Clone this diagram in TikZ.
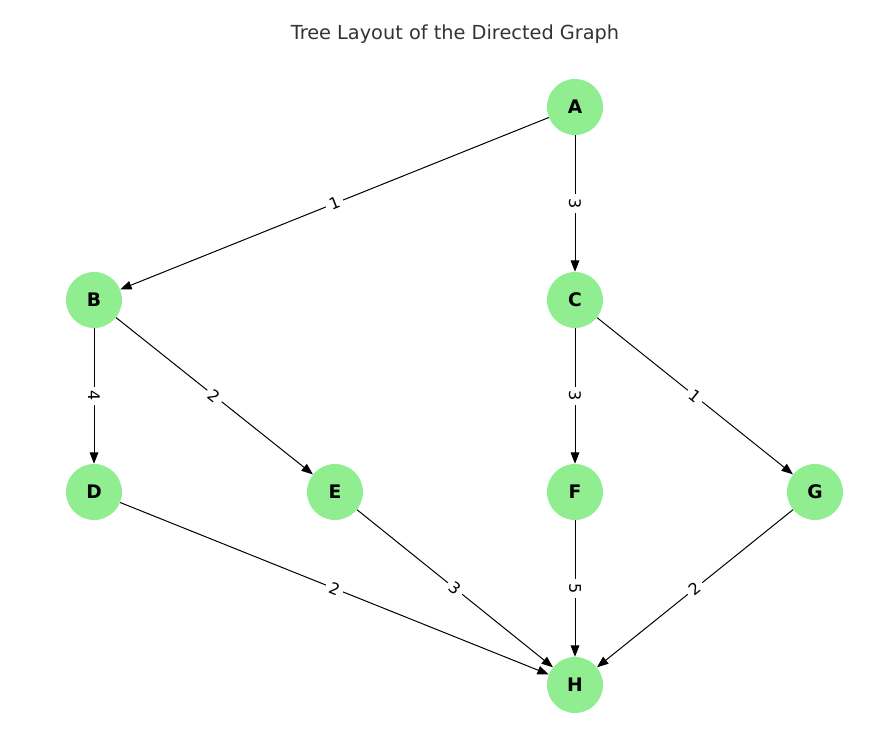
\documentclass[tikz,border=0pt]{standalone}
\usepackage{fontspec}
\setmainfont{DejaVu Sans}
\usetikzlibrary{arrows.meta}
\definecolor{nodegreen}{HTML}{90EE90}
\definecolor{titlegray}{HTML}{333333}
\tikzset{
  gnode/.style={circle, fill=nodegreen, minimum size=42pt, inner sep=0pt, font=\fontsize{14}{16}\selectfont\bfseries},
  gedge/.style={line width=0.75pt, -{Triangle[length=8.5pt,width=6.5pt]}},
  elabel/.style={midway, sloped, fill=white, inner sep=3pt, font=\fontsize{12}{14}\selectfont},
  vlabel/.style={midway, rotate=-90, fill=white, inner sep=3pt, font=\fontsize{12}{14}\selectfont}
}
\begin{document}
\begin{tikzpicture}[x=0.75pt,y=-0.75pt]
\useasboundingbox (0,0) rectangle (894,731);
\node[text=titlegray, font=\fontsize{14.5}{17}\selectfont] (title) at (455,34) {Tree Layout of the Directed Graph};
\node[gnode] (A) at (575,107) {A};
\node[gnode] (B) at (94,300) {B};
\node[gnode] (C) at (575,300) {C};
\node[gnode] (D) at (94,492) {D};
\node[gnode] (E) at (335,492) {E};
\node[gnode] (F) at (575,492) {F};
\node[gnode] (G) at (815,492) {G};
\node[gnode] (H) at (575,685) {H};
\draw[gedge] (A) -- node[elabel] {1} (B);
\draw[gedge] (A) -- node[vlabel] {3} (C);
\draw[gedge] (B) -- node[vlabel] {4} (D);
\draw[gedge] (B) -- node[elabel] {2} (E);
\draw[gedge] (C) -- node[vlabel] {3} (F);
\draw[gedge] (C) -- node[elabel] {1} (G);
\draw[gedge] (D) -- node[elabel] {2} (H);
\draw[gedge] (E) -- node[elabel] {3} (H);
\draw[gedge] (F) -- node[vlabel] {5} (H);
\draw[gedge] (G) -- node[elabel] {2} (H);
\end{tikzpicture}
\end{document}
